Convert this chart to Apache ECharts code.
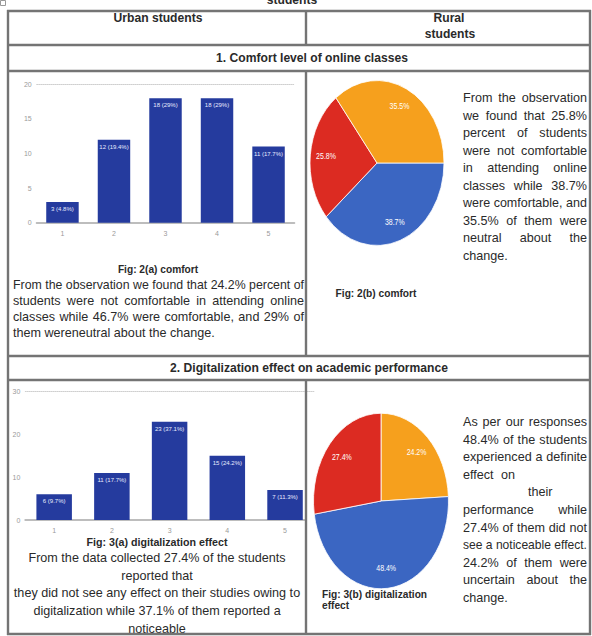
<!DOCTYPE html>
<html>
<head>
<meta charset="utf-8">
<script src="https://cdn.jsdelivr.net/npm/echarts@6/dist/echarts.min.js"></script>
<style>
html,body{margin:0;padding:0;background:#fff;}
#main{position:absolute;left:0;top:0;width:592px;height:636px;}
.pie{position:absolute;width:140px;height:140px;transform-origin:50% 50%;}
#pie1{left:307px;top:92.5px;transform:scaleY(1.231);}
#pie2{left:310.5px;top:430.5px;transform:scaleY(1.30);}
</style>
</head>
<body>
<div id="main"></div>
<div id="pie1" class="pie"></div>
<div id="pie2" class="pie"></div>
<script>
// ---------- data ----------
const categories = ['1', '2', '3', '4', '5'];
const comfortCounts = [3, 12, 18, 18, 11];
const digitalCounts = [6, 11, 23, 15, 7];
const comfortAxisTicks = [0, 5, 10, 15, 20];
const digitalAxisTicks = [0, 10, 20, 30];

const comfortPieNames = ['Comfortable', 'Not comfortable', 'Neutral'];
const comfortPieValues = [38.7, 25.8, 35.5];
const digitalPieNames = ['Uncertain', 'Definite effect', 'No noticeable effect'];
const digitalPieValues = [24.2, 48.4, 27.4];

const headerLeft = 'Urban students';
const headerRight = ['Rural', 'students'];
const section1 = '1. Comfort level of online classes';
const section2 = '2. Digitalization effect on academic performance';
const cap2a = 'Fig: 2(a) comfort';
const cap2b = 'Fig: 2(b) comfort';
const cap3a = 'Fig: 3(a) digitalization effect';
const cap3b = ['Fig: 3(b) digitalization', 'effect'];
const para1Left = [
  'From the observation we found that 24.2% percent of',
  'students were not comfortable in attending online',
  'classes while 46.7% were comfortable, and 29% of',
  'them wereneutral about the change.'
];
const para1Right = [
  'From the observation', 'we found that 25.8%', 'percent of students',
  'were not comfortable', 'in attending online', 'classes while 38.7%',
  'were comfortable, and', '35.5% of them were', 'neutral about the', 'change.'
];
const para2Left = [
  'From the data collected 27.4% of the students',
  'reported that',
  'they did not see any effect on their studies owing to',
  'digitalization while 37.1% of them reported a',
  'noticeable'
];
const para2Right = [
  'As per our responses', '48.4% of the students', 'experienced a definite',
  'effect on', 'their', 'performance while', '27.4% of them did not',
  'see a noticeable effect.', '24.2% of them were', 'uncertain about the', 'change.'
];

// ---------- helpers ----------
const FAM = "'Liberation Sans', Arial, sans-serif";
const SX = 0.97;
const TXT = '#2a2a2a';
const ctx = document.createElement('canvas').getContext('2d');
function fontStr(size, weight) { return (weight || 'normal') + ' ' + size + 'px ' + FAM; }
function rawW(s, size, weight) { ctx.font = fontStr(size, weight); return ctx.measureText(s).width; }
function T(s, x, y, size, weight, align, color, sx) {
  return {
    type: 'text', x: x, y: y, scaleX: sx || SX, z: 20, silent: true,
    style: {
      text: s, font: fontStr(size, weight), fill: color || TXT,
      textAlign: align || 'left', align: align || 'left',
      textVerticalAlign: 'middle', verticalAlign: 'middle'
    }
  };
}
function justify(line, x0, w, y, size, last) {
  const words = line.split(/\s+/);
  const n = words.length;
  const raw = words.map(wd => rawW(wd, size));
  const rawSum = raw.reduce((a, b) => a + b, 0);
  const spaceRaw = rawW(' ', size);
  let sx = SX;
  const need = (rawSum + spaceRaw * (n - 1)) * sx;
  if (need > w) sx = w / (rawSum + spaceRaw * (n - 1));
  if (last || n < 2) return [T(line, x0, y, size, 'normal', 'left', null, sx)];
  const widths = raw.map(v => v * sx);
  const sum = widths.reduce((a, b) => a + b, 0);
  const gap = (w - sum) / (n - 1);
  const out = [];
  let x = x0;
  words.forEach((wd, i) => { out.push(T(wd, x, y, size, 'normal', 'left', null, sx)); x += widths[i] + gap; });
  return out;
}
function L(x1, y1, x2, y2) {
  return { type: 'line', z: 30, silent: true, shape: { x1, y1, x2, y2 },
    style: { stroke: '#747474', lineWidth: 2.4 } };
}

// ---------- graphic ----------
const g = [];
// mask the part of the lower bar chart baseline that would cross into the right cell
g.push({ type: 'rect', z: 15, silent: true, shape: { x: 307, y: 516, width: 12, height: 8 },
  style: { fill: '#fff' } });
[11, 45, 71, 356, 380, 634].forEach(y => g.push(L(7, y, 591, y)));
g.push(L(8, 10, 8, 635));
g.push(L(590, 10, 590, 635));
g.push(L(306, 11, 306, 45));
g.push(L(306, 71, 306, 356));
g.push(L(306, 380, 306, 634));
g.push({ type: 'rect', z: 30, silent: true, shape: { x: 0.5, y: 0.5, width: 5, height: 5 },
  style: { fill: 'none', stroke: '#999', lineWidth: 1 } });
g.push(T('students', 292, 0, 12.5, 'bold', 'center'));
g.push(T(headerLeft, 158, 18, 12.5, 'bold', 'center'));
g.push(T(headerRight[0], 449, 18, 12.5, 'bold', 'center'));
g.push(T(headerRight[1], 450, 34, 12.5, 'bold', 'center'));
g.push(T(section1, 312, 58, 12.5, 'bold', 'center'));
g.push(T(section2, 309, 368, 12.5, 'bold', 'center'));
g.push(T(cap2a, 158, 269, 10.5, 'bold', 'center'));
g.push(T(cap2b, 376, 293, 10.5, 'bold', 'center'));
g.push(T(cap3a, 157, 542, 11, 'bold', 'center'));
g.push(T(cap3b[0], 322, 594, 10.5, 'bold', 'left'));
g.push(T(cap3b[1], 322, 605, 10.5, 'bold', 'left'));
para1Left.forEach((ln, i) => g.push(...justify(ln, 13, 291, 285 + i * 15.8, 13, i === para1Left.length - 1)));
para1Right.forEach((ln, i) => g.push(...justify(ln, 463, 124, 97.7 + i * 17.5, 13, i === para1Right.length - 1)));
para2Left.forEach((ln, i) => g.push(T(ln, 157, 557.5 + i * 17.7, 13, 'normal', 'center')));
para2Right.forEach((ln, i) => {
  const y = 421.5 + i * 17.6;
  if (ln === 'effect on') g.push(...justify(ln, 463, 52, y, 13, false));
  else if (ln === 'their') g.push(T(ln, 528, y, 13));
  else g.push(...justify(ln, 463, 124, y, 13, i === para2Right.length - 1));
});

// ---------- bar charts ----------
function pctLabel(counts) {
  const tot = counts.reduce((a, b) => a + b, 0);
  return p => {
    let pc = (p.value / tot * 100).toFixed(1);
    if (pc.endsWith('.0')) pc = pc.slice(0, -2);
    return p.value + ' (' + pc + '%)';
  };
}
const BAR = '#253b9e';
const axisTxt = { fontSize: 7, color: '#9a9a9a', fontFamily: FAM };

const main = echarts.init(document.getElementById('main'), null, { renderer: 'svg', width: 592, height: 636 });
main.setOption({
  backgroundColor: '#fff',
  animation: false,
  grid: [
    { left: 36.7, right: 592 - 294.3, top: 84.3, bottom: 636 - 222.7 },
    { left: 25.3, right: 592 - 313.9, top: 391.7, bottom: 636 - 520 }
  ],
  xAxis: [
    { type: 'category', gridIndex: 0, data: categories,
      axisLine: { lineStyle: { color: '#bdbdbd', width: 2 } }, axisTick: { show: false },
      axisLabel: Object.assign({ margin: 7 }, axisTxt) },
    { type: 'category', gridIndex: 0, position: 'top', data: categories,
      axisLine: { lineStyle: { color: '#cfcfcf', width: 1, type: 'dotted' } },
      axisTick: { show: false }, axisLabel: { show: false } },
    { type: 'category', gridIndex: 1, data: categories,
      axisLine: { lineStyle: { color: '#bdbdbd', width: 2 } }, axisTick: { show: false },
      axisLabel: Object.assign({ margin: 7 }, axisTxt) },
    { type: 'category', gridIndex: 1, position: 'top', data: categories,
      axisLine: { lineStyle: { color: '#cfcfcf', width: 1, type: 'dotted' } },
      axisTick: { show: false }, axisLabel: { show: false } }
  ],
  yAxis: [
    { type: 'value', gridIndex: 0, min: comfortAxisTicks[0], max: comfortAxisTicks[comfortAxisTicks.length - 1],
      interval: comfortAxisTicks[1] - comfortAxisTicks[0],
      axisLine: { show: false }, axisTick: { show: false }, splitLine: { show: false },
      axisLabel: Object.assign({ margin: 5 }, axisTxt) },
    { type: 'value', gridIndex: 1, min: digitalAxisTicks[0], max: digitalAxisTicks[digitalAxisTicks.length - 1],
      interval: digitalAxisTicks[1] - digitalAxisTicks[0],
      axisLine: { show: false }, axisTick: { show: false }, splitLine: { show: false },
      axisLabel: Object.assign({ margin: 5 }, axisTxt) }
  ],
  series: [
    { type: 'bar', xAxisIndex: 0, yAxisIndex: 0, data: comfortCounts, barCategoryGap: '37%',
      itemStyle: { color: BAR },
      label: { show: true, position: 'insideTop', distance: 4, color: '#e8ecff', fontSize: 6, fontFamily: FAM,
        formatter: pctLabel(comfortCounts) } },
    { type: 'bar', xAxisIndex: 2, yAxisIndex: 1, data: digitalCounts, barCategoryGap: '38.5%',
      itemStyle: { color: BAR },
      label: { show: true, position: 'insideTop', distance: 4, color: '#e8ecff', fontSize: 6, fontFamily: FAM,
        formatter: pctLabel(digitalCounts) } }
  ],
  graphic: g
});

// ---------- pies ----------
const BLUE = '#3b66c2', RED = '#dc2b22', ORANGE = '#f6a01d';
function pieOption(names, values, colors, startAngle, radius) {
  const data = names.map((n, i) => ({ name: n, value: values[i], itemStyle: { color: colors[i] } }));
  return {
    animation: false,
    series: [
      { type: 'pie', radius: radius, center: [70, 70], startAngle: startAngle, data: data,
        label: { show: false }, labelLine: { show: false }, silent: true,
        itemStyle: { borderColor: '#fff', borderWidth: 0.7 } },
      { type: 'pie', radius: [radius * 0.44, radius], center: [70, 70], startAngle: startAngle,
        data: names.map((n, i) => ({ name: n, value: values[i] })), silent: true,
        itemStyle: { color: 'rgba(0,0,0,0)' },
        label: { show: true, position: 'inside', color: '#fff', fontSize: 7, fontFamily: FAM,
          formatter: p => p.value.toFixed(1) + '%' },
        labelLine: { show: false } }
    ]
  };
}
const p1 = echarts.init(document.getElementById('pie1'), null, { renderer: 'svg', width: 140, height: 140 });
p1.setOption(pieOption(comfortPieNames, comfortPieValues, [BLUE, RED, ORANGE], 0, 67));
const p2 = echarts.init(document.getElementById('pie2'), null, { renderer: 'svg', width: 140, height: 140 });
p2.setOption(pieOption(digitalPieNames, digitalPieValues, [ORANGE, BLUE, RED], 90, 67.5));
</script>
</body>
</html>
